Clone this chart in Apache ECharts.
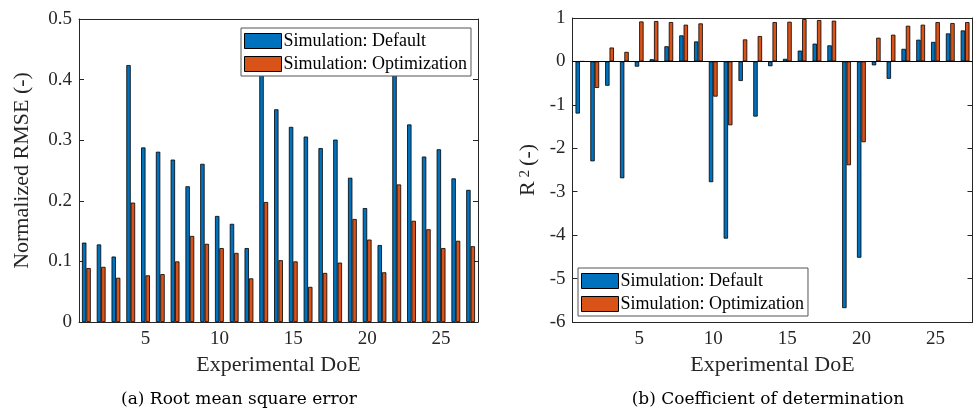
<!DOCTYPE html>
<html>
<head>
<meta charset="utf-8">
<script src="https://cdn.jsdelivr.net/npm/echarts@6/dist/echarts.min.js"></script>
<style>html,body{margin:0;padding:0;background:#fff;}#c{width:975px;height:408px;}</style>
</head>
<body>
<div id="c"></div>
<script>
const categories = [1,2,3,4,5,6,7,8,9,10,11,12,13,14,15,16,17,18,19,20,21,22,23,24,25,26,27];
const rmseDefault = [0.131,0.128,0.108,0.424,0.288,0.281,0.268,0.224,0.261,0.175,0.162,0.122,0.45,0.351,0.322,0.306,0.287,0.301,0.238,0.188,0.127,0.44,0.326,0.273,0.285,0.237,0.218];
const rmseOptim = [0.089,0.091,0.073,0.197,0.077,0.079,0.100,0.142,0.129,0.122,0.114,0.072,0.198,0.102,0.100,0.058,0.081,0.098,0.170,0.136,0.082,0.227,0.167,0.153,0.122,0.134,0.125];
const r2Default = [-1.20,-2.30,-0.56,-2.69,-0.12,0.05,0.35,0.60,0.46,-2.78,-4.08,-0.45,-1.27,-0.11,0.06,0.25,0.41,0.37,-5.68,-4.52,-0.09,-0.40,0.29,0.50,0.45,0.645,0.714];
const r2Optim = [0.0,-0.61,0.32,0.22,0.92,0.93,0.906,0.846,0.876,-0.81,-1.47,0.507,0.585,0.906,0.914,0.976,0.953,0.938,-2.39,-1.86,0.546,0.615,0.822,0.846,0.906,0.884,0.906];
const rmseTicks = {min:0, max:0.5, interval:0.1};
const r2Ticks = {min:-6, max:1, interval:1};
const nameDefault = 'Simulation: Default';
const nameOptim = 'Simulation: Optimization';

const FONT = 'Liberation Serif';
const CAPFONT = 'DejaVu Serif';
const AX = '#262626';
const BLUE = '#0072BD', ORANGE = '#D95319';
const every5 = function(i){ return (i+1) % 5 === 0; };

function xAxes(grid){
  return [
    {type:'category', gridIndex:grid, data:categories, position:'bottom',
     name:'Experimental DoE', nameLocation:'middle', nameGap:28,
     nameTextStyle:{fontFamily:FONT, fontSize:22, color:'#262626'},
     axisLine:{onZero:false, lineStyle:{color:AX, width:1}},
     axisTick:{inside:true, length:5, alignWithLabel:true, interval:every5, lineStyle:{color:AX}},
     axisLabel:{interval:every5, fontFamily:FONT, fontSize:19, color:AX, margin:8},
     splitLine:{show:false}},
    {type:'category', gridIndex:grid, data:categories, position:'top',
     axisLine:{onZero:false, lineStyle:{color:AX, width:1}},
     axisTick:{inside:true, length:5, alignWithLabel:true, interval:every5, lineStyle:{color:AX}},
     axisLabel:{show:false}, splitLine:{show:false}}
  ];
}
function yAxes(grid, t, name, gap){
  return [
    {type:'value', gridIndex:grid, position:'left', min:t.min, max:t.max, interval:t.interval,
     name:name, nameLocation:'middle', nameGap:gap,
     nameTextStyle:{fontFamily:FONT, fontSize:22, color:'#262626',
       rich:{r:{fontFamily:FONT, fontSize:22, color:'#262626'},
             s:{fontFamily:FONT, fontSize:15, color:'#262626', verticalAlign:'top', padding:[0,4,0,4]}}},
     axisLine:{show:true, onZero:false, lineStyle:{color:AX, width:1}},
     axisTick:{show:true, inside:true, length:5, lineStyle:{color:AX}},
     axisLabel:{fontFamily:FONT, fontSize:19, color:AX, margin:7},
     splitLine:{show:false}},
    {type:'value', gridIndex:grid, position:'right', min:t.min, max:t.max, interval:t.interval,
     axisLine:{show:true, onZero:false, lineStyle:{color:AX, width:1}},
     axisTick:{show:true, inside:true, length:5, lineStyle:{color:AX}},
     axisLabel:{show:false}, splitLine:{show:false}}
  ];
}
function bar(name, data, color, xi, yi, extra){
  return Object.assign({type:'bar', name:name, data:data, xAxisIndex:xi, yAxisIndex:yi,
    barWidth:4.4, barGap:'0%', animation:false,
    itemStyle:{color:color, borderColor:'#000', borderWidth:0.8}}, extra||{});
}
const legendCommon = {orient:'vertical', icon:'rect', itemWidth:37, itemHeight:15, itemGap:5,
  padding:[4,4,3,3], backgroundColor:'#fff', borderColor:'#555', borderWidth:1, borderRadius:0,
  itemStyle:{borderColor:'#000', borderWidth:1},
  textStyle:{fontFamily:FONT, fontSize:18, color:'#000', padding:[0,0,0,-3]},
  data:[nameDefault, nameOptim], selectedMode:false};

const chart = echarts.init(document.getElementById('c'), null, {renderer:'canvas'});
chart.setOption({
  backgroundColor:'#fff',
  animation:false,
  title:[
    {text:'(a) Root mean square error', left:234, top:386, textAlign:'center',
     textStyle:{fontFamily:CAPFONT, fontSize:17, fontWeight:'normal', color:'#000'}},
    {text:'(b) Coefficient of determination', left:763, top:386, textAlign:'center',
     textStyle:{fontFamily:CAPFONT, fontSize:17, fontWeight:'normal', color:'#000'}}
  ],
  grid:[
    {left:79, top:19, width:399, height:303},
    {left:572.5, top:18, width:400, height:304}
  ],
  legend:[
    Object.assign({left:241, top:28}, legendCommon),
    Object.assign({left:578, top:268}, legendCommon)
  ],
  xAxis: xAxes(0).concat(xAxes(1)),
  yAxis: yAxes(0, rmseTicks, 'Normalized RMSE (-)', 46).concat(yAxes(1, r2Ticks, '{r|R}{s|2}{r|(-)}', 33)),
  series:[
    bar(nameDefault, rmseDefault, BLUE, 0, 0),
    bar(nameOptim, rmseOptim, ORANGE, 0, 0),
    bar(nameDefault, r2Default, BLUE, 2, 2, {markLine:{silent:true, symbol:'none', label:{show:false},
      lineStyle:{color:'#000', width:1, type:'solid'}, data:[{yAxis:0}]}}),
    bar(nameOptim, r2Optim, ORANGE, 2, 2)
  ]
});
</script>
</body>
</html>
